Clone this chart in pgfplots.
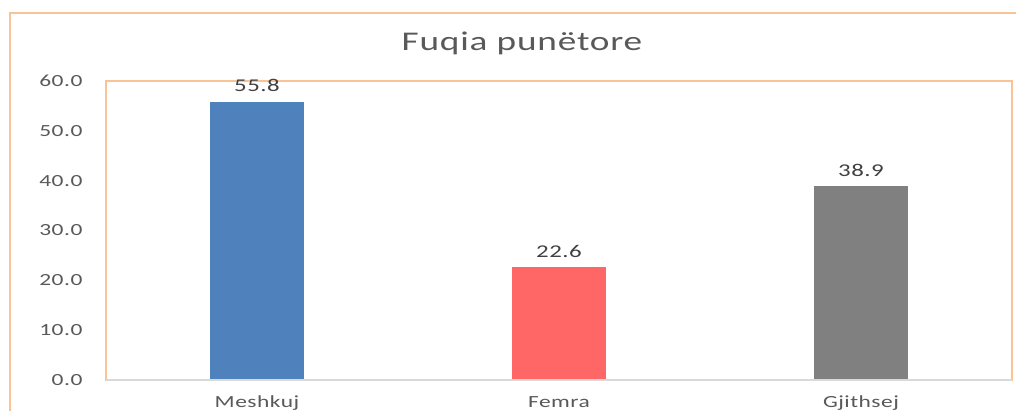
\documentclass[border=0pt]{standalone}
\usepackage{fontspec}
\setmainfont[FakeStretch=1.38,LetterSpace=3]{Carlito}
\usepackage{pgfplots}
\pgfplotsset{compat=1.18}
\definecolor{frameor}{HTML}{F9C396}
\definecolor{tickgray}{HTML}{595959}
\definecolor{lblgray}{HTML}{404040}
\definecolor{cblue}{HTML}{4F81BD}
\definecolor{cred}{HTML}{FF6666}
\definecolor{cgray}{HTML}{808080}
\definecolor{axgray}{HTML}{D9D9D9}
\begin{document}
\begin{tikzpicture}[x=1pt,y=1pt]
\useasboundingbox (0,0) rectangle (1016,410);
\fill[white] (0,0) rectangle (1016,410);
\draw[frameor, line width=1.5pt] (10,397) rectangle (1040,-20);
\node[anchor=base, text=tickgray, font=\fontsize{27}{30}\selectfont] at (522,359) {Fuqia punëtore};
\begin{axis}[
  at={(106pt,30pt)}, anchor=south west,
  width=906pt, height=299pt, scale only axis,
  xmin=-0.5, xmax=2.5, ymin=0, ymax=60,
  ytick={0,10,20,30,40,50,60},
  xtick={0,1,2},
  xticklabels={Meshkuj,Femra,Gjithsej},
  major tick length=0pt,
  axis line style={frameor, line width=1.2pt},
  /pgf/number format/assume math mode=true,
  yticklabel={\pgfmathprintnumber[fixed,fixed zerofill,precision=1]{\tick}},
  yticklabel style={text=tickgray, font=\fontsize{17}{20}\selectfont, xshift=-20pt},
  xticklabel style={text=tickgray, font=\fontsize{17}{20}\selectfont, anchor=base, yshift=-27pt},
  ybar, bar width=94pt, bar shift=0pt,
  nodes near coords,
  nodes near coords style={text=lblgray, font=\fontsize{18}{20}\selectfont, anchor=base, yshift=10pt,
     /pgf/number format/.cd, fixed, fixed zerofill, precision=1, assume math mode=true},
  clip=false,
]
\addplot[fill=cblue, draw=none] coordinates {(0,55.8)};
\addplot[fill=cred, draw=none] coordinates {(1,22.6)};
\addplot[fill=cgray, draw=none] coordinates {(2,38.9)};
\draw[axgray, line width=1.5pt] (axis cs:-0.5,0) -- (axis cs:2.5,0);
\end{axis}
\end{tikzpicture}
\end{document}
